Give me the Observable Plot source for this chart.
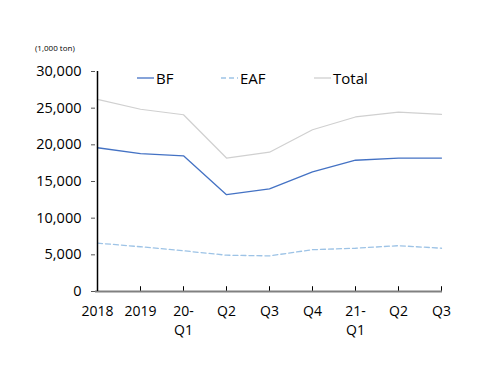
<!DOCTYPE html>
<html>
<head>
<meta charset="utf-8">
<script src="https://cdn.jsdelivr.net/npm/d3@7"></script>
<script src="https://cdn.jsdelivr.net/npm/@observablehq/plot@0.6"></script>
<style>
  html, body { margin: 0; padding: 0; background: #fff; }
  #wrap { position: relative; width: 500px; height: 386px; font-family: "Open Sans", sans-serif; }
  #unit { position: absolute; left: 35px; top: 42px; font-size: 8px; color: #000; }
  #legend { position: absolute; top: 68px; left: 0; width: 500px; height: 20px; font-size: 15px; }
  .item { position: absolute; display: flex; align-items: center; }
  .item svg { margin-right: 2px; }
</style>
</head>
<body>
<div id="wrap">
  <div id="unit">(1,000 ton)</div>
  <div id="legend"></div>
</div>
<script>
const categories = ["2018", "2019", "20-Q1", "20-Q2", "20-Q3", "20-Q4", "21-Q1", "21-Q2", "21-Q3"];
const tickLabels = ["2018", "2019", "20-\nQ1", "Q2", "Q3", "Q4", "21-\nQ1", "Q2", "Q3"];
const bf = [19600, 18800, 18500, 13200, 14000, 16300, 17900, 18200, 18200];
const eaf = [6600, 6100, 5550, 4950, 4860, 5700, 5900, 6250, 5900];
const total = [26200, 24850, 24100, 18200, 19000, 22050, 23800, 24450, 24150];
const seriesNames = ["BF", "EAF", "Total"];

const colors = {BF: "#4472C4", EAF: "#9DC3E6", Total: "#D0D0D0"};
const dashes = {BF: null, EAF: "5,3", Total: null};

const rows = [];
[bf, eaf, total].forEach((vals, i) => {
  vals.forEach((v, j) => rows.push({series: seriesNames[i], cat: categories[j], value: v}));
});
const labelOf = new Map(categories.map((c, i) => [c, tickLabels[i]]));
const fmt = d3.format(",");

const chart = Plot.plot({
  width: 500,
  height: 386,
  marginLeft: 95,
  marginRight: 58,
  marginTop: 71,
  marginBottom: 95,
  style: {fontFamily: "Open Sans, sans-serif", background: "transparent"},
  x: {type: "point", domain: categories, padding: 0},
  y: {domain: [0, 30000]},
  marks: [
    Plot.axisY({ticks: d3.range(0, 30001, 5000), tickFormat: d => fmt(d), tickSize: 4, tickPadding: 10, fontSize: 14.5, stroke: "#555", color: "#000", label: null}),
    Plot.axisX({tickSize: 0, tickPadding: 12, fontSize: 14, tickFormat: d => labelOf.get(d), label: null, lineHeight: 1.3}),
    ...seriesNames.map(s => Plot.line(rows.filter(r => r.series === s), {
      x: "cat", y: "value", stroke: colors[s], strokeWidth: s === "Total" ? 1.2 : 1.3, strokeDasharray: dashes[s]
    })),
    Plot.ruleX(categories, {y1: 0, y2: 650, stroke: "#000", strokeWidth: 1}),
    Plot.ruleY([0], {stroke: "#808080", strokeWidth: 2.2}),
    Plot.ruleX([categories[0]], {y1: 0, y2: 30000, stroke: "#000", strokeWidth: 1.5})
  ]
});
document.getElementById("wrap").appendChild(chart);
chart.style.position = "absolute";
chart.style.left = "0";
chart.style.top = "0";

const legendPos = {BF: 137, EAF: 221, Total: 314};
const legend = document.getElementById("legend");
seriesNames.forEach(s => {
  const d = document.createElement("div");
  d.className = "item";
  d.style.left = legendPos[s] + "px";
  d.innerHTML = `<svg width="17" height="10"><line x1="0" y1="5" x2="17" y2="5" stroke="${colors[s]}" stroke-width="1.3" ${dashes[s] ? `stroke-dasharray="${dashes[s]}"` : ""}/></svg><span>${s}</span>`;
  legend.appendChild(d);
});
</script>
</body>
</html>
